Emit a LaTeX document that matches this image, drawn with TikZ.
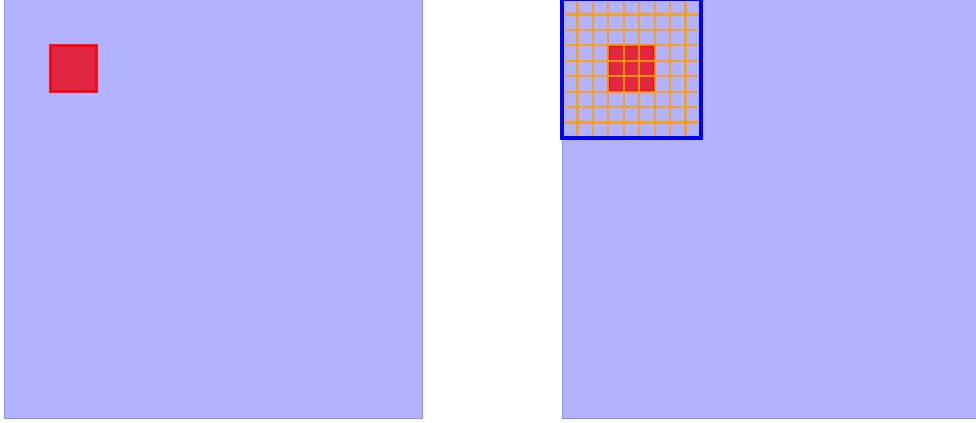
\documentclass[tikz,border=0pt]{standalone}
\usetikzlibrary{calc}

\begin{document}
\begin{tikzpicture}[
    x=0.5pt, y=-0.5pt,
    plane/.style={draw=blue!45, fill=blue!30, line width=0.5pt},
    patch/.style={draw=red, fill=red!95!blue, fill opacity=0.78,
                  draw opacity=0.85, line width=1.3pt},
    gridline/.style={draw=orange!75!yellow, line width=1.1pt, opacity=0.85},
    window/.style={draw=blue, line width=1.6pt}
  ]
  \def\cell{15.44}
  \useasboundingbox (0,0) rectangle (976,423);
  \clip (0,0) rectangle (976,423);

  % Input
  \coordinate (inA) at (4,-1);
  \draw[plane] (inA) rectangle ++(418,419);
  \draw[patch] ($(inA)+(3*\cell,3*\cell)$) rectangle ++(3*\cell,3*\cell);

  % Output
  \coordinate (inB) at (562,-1);
  \draw[plane] (inB) rectangle ++(430,419);
  \draw[patch] ($(inB)+(3*\cell,3*\cell)$) rectangle ++(3*\cell,3*\cell);
  \foreach \i in {1,...,8} {
    \draw[gridline] ($(inB)+(\i*\cell,0)$) -- ++(0,9*\cell);
    \draw[gridline] ($(inB)+(0,\i*\cell)$) -- ++(9*\cell,0);
  }
  \draw[window] (inB) rectangle ++(9*\cell,9*\cell);
\end{tikzpicture}
\end{document}
